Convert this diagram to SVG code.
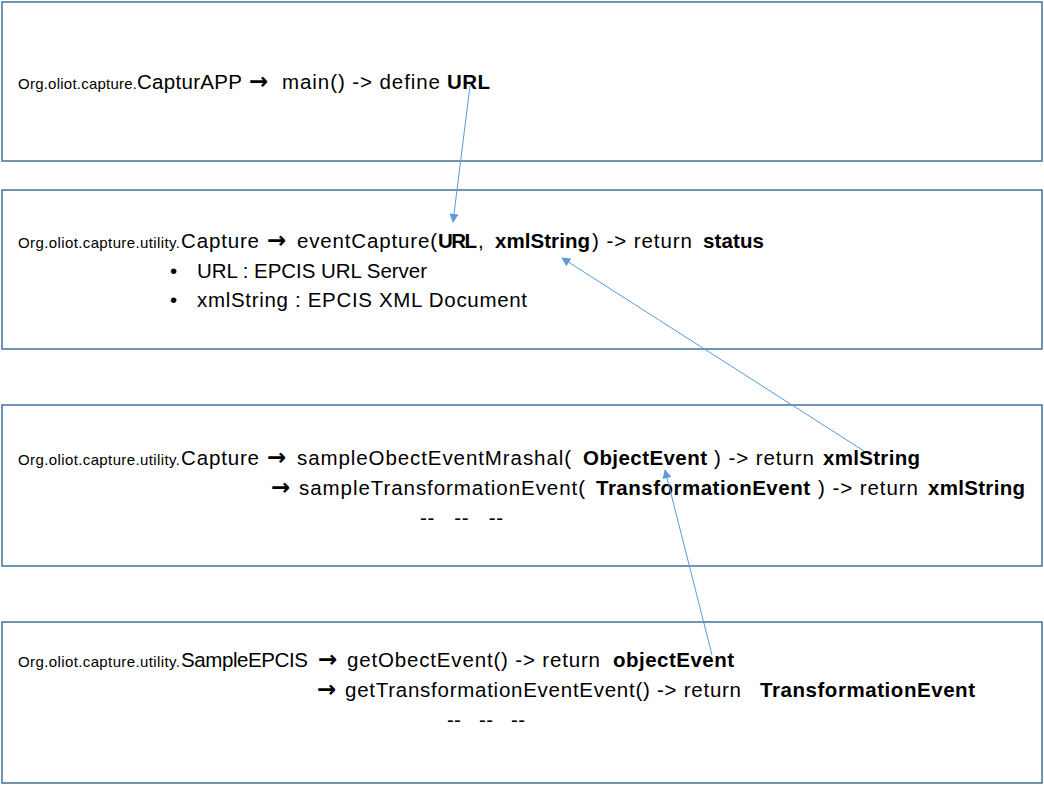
<svg xmlns="http://www.w3.org/2000/svg" width="1044" height="785" viewBox="0 0 1044 785">
<defs>
<style>
.box{fill:#fff;stroke:#41719C;stroke-width:1.5}
text{font-family:"Liberation Sans",Arial,sans-serif;font-size:20.5px;fill:#000}
.s{font-size:15px}
.b{font-weight:bold}
.ar{font-family:"DejaVu Sans",sans-serif;font-weight:bold;font-size:23px}
.con{stroke:#5B9BD5;stroke-width:1;fill:none;marker-end:url(#ah)}
</style>
<marker id="ah" viewBox="0 0 10 10" refX="9" refY="5" markerWidth="11" markerHeight="9" markerUnits="userSpaceOnUse" orient="auto">
<path d="M0,0 L10,5 L0,10 z" fill="#5B9BD5"/>
</marker>
</defs>
<rect width="1044" height="785" fill="#fff"/>
<g id="node1">
<rect class="box" x="2" y="2" width="1040" height="159"/>
<text y="89"><tspan class="s" x="18" textLength="119">Org.oliot.capture.</tspan><tspan x="137" textLength="105">CapturAPP</tspan><tspan class="ar" x="249">→</tspan><tspan x="282" textLength="158">main() -&gt; define</tspan><tspan class="b" x="447" textLength="43">URL</tspan></text>
</g>
<g id="node2">
<rect class="box" x="2" y="190" width="1040" height="159"/>
<text y="248"><tspan class="s" x="18" textLength="162">Org.oliot.capture.utility.</tspan><tspan x="181" textLength="78">Capture</tspan><tspan class="ar" x="267">→</tspan><tspan x="297" textLength="140">eventCapture(</tspan><tspan class="b" x="438" textLength="39">URL</tspan><tspan x="478">,</tspan><tspan class="b" x="495" textLength="95">xmlString</tspan><tspan x="592" textLength="100">) -&gt; return</tspan><tspan class="b" x="703" textLength="61">status</tspan></text>
<text y="278"><tspan x="170">•</tspan><tspan x="197" textLength="230">URL : EPCIS URL Server</tspan></text>
<text y="307"><tspan x="170">•</tspan><tspan x="197" textLength="330">xmlString : EPCIS XML Document</tspan></text>
</g>
<g id="node3">
<rect class="box" x="2" y="405" width="1040" height="161"/>
<text y="465"><tspan class="s" x="18" textLength="162">Org.oliot.capture.utility.</tspan><tspan x="181" textLength="78">Capture</tspan><tspan class="ar" x="267">→</tspan><tspan x="297" textLength="274">sampleObectEventMrashal(</tspan><tspan class="b" x="583" textLength="124">ObjectEvent</tspan><tspan x="714" textLength="100">) -&gt; return</tspan><tspan class="b" x="823" textLength="97">xmlString</tspan></text>
<text y="495"><tspan class="ar" x="271">→</tspan><tspan x="299" textLength="286">sampleTransformationEvent(</tspan><tspan class="b" x="596" textLength="214">TransformationEvent</tspan><tspan x="818" textLength="100">) -&gt; return</tspan><tspan class="b" x="928" textLength="97">xmlString</tspan></text>
<text x="420" y="525" textLength="83" xml:space="preserve">--   --   --</text>
</g>
<g id="node4">
<rect class="box" x="2" y="622" width="1040" height="161"/>
<text y="667"><tspan class="s" x="18" textLength="162">Org.oliot.capture.utility.</tspan><tspan x="181" textLength="127">SampleEPCIS</tspan><tspan class="ar" x="318">→</tspan><tspan x="347" textLength="253">getObectEvent() -&gt; return</tspan><tspan class="b" x="613" textLength="121">objectEvent</tspan></text>
<text y="697"><tspan class="ar" x="317">→</tspan><tspan x="345" textLength="396">getTransformationEventEvent() -&gt; return</tspan><tspan class="b" x="760" textLength="215">TransformationEvent</tspan></text>
<text x="447" y="727" textLength="78" xml:space="preserve">--   --   --</text>
</g>
<g id="connectors">
<line class="con" x1="470" y1="86" x2="453" y2="222"/>
<line class="con" x1="864" y1="451" x2="562" y2="258"/>
<line class="con" x1="712" y1="655" x2="665" y2="470"/>
</g>
</svg>
